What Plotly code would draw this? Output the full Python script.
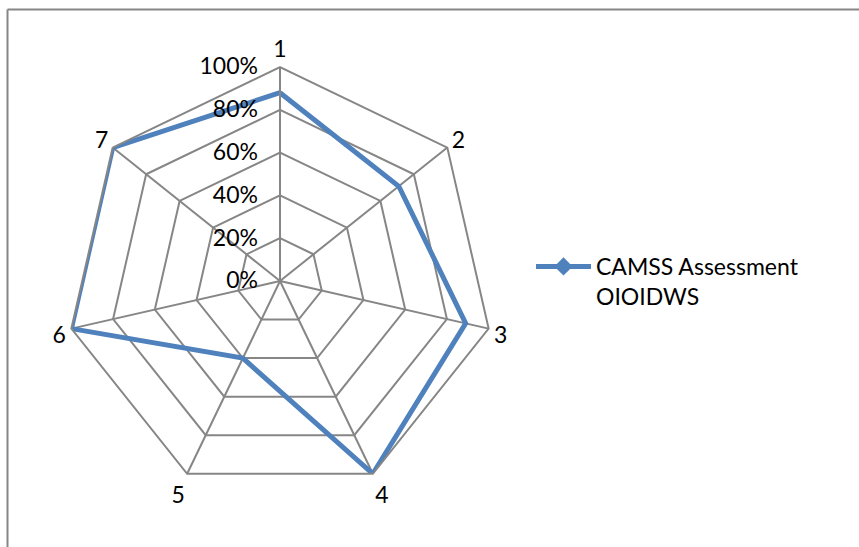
import plotly.graph_objects as go

categories = ["1", "2", "3", "4", "5", "6", "7"]
values = [0.88, 0.71, 0.89, 1.00, 0.40, 1.00, 1.00]
series_name = "CAMSS Assessment<br>OIOIDWS"
radial_ticks = [0, 0.2, 0.4, 0.6, 0.8, 1.0]
radial_labels = ["0%", "20%", "40%", "60%", "80%", "100%"]

W, H = 859, 547
cx, cy, R = 280, 281, 214
LINE = "#4F81BD"
GRID = "#868686"
FONT = "Lato"
FS = 23

fig = go.Figure()
fig.add_trace(go.Scatterpolar(
    r=values + values[:1], theta=categories + categories[:1],
    mode="lines", line=dict(color=LINE, width=5), showlegend=False,
))
fig.add_trace(go.Scatterpolar(
    r=[None], theta=[None], name=series_name,
    mode="lines+markers", line=dict(color=LINE, width=5),
    marker=dict(symbol="diamond", size=14, color=LINE), showlegend=True,
))

fig.update_layout(
    width=W, height=H,
    margin=dict(l=0, r=0, t=0, b=0),
    paper_bgcolor="white",
    font=dict(family=FONT, size=FS, color="black"),
    polar=dict(
        domain=dict(x=[(cx - R) / W, (cx + R) / W], y=[(H - cy - R) / H, (H - cy + R) / H]),
        gridshape="linear",
        bgcolor="white",
        angularaxis=dict(
            rotation=90, direction="clockwise", type="category",
            categoryarray=categories,
            showline=True, linecolor=GRID, linewidth=2,
            gridcolor=GRID, gridwidth=2, ticks="",
            tickfont=dict(family=FONT, size=FS, color="black"),
        ),
        radialaxis=dict(
            range=[0, 1], tickvals=radial_ticks, ticktext=radial_labels,
            angle=90, tickangle=90, side="counterclockwise",
            showline=True, linecolor=GRID, linewidth=2,
            gridcolor=GRID, gridwidth=2,
            ticks="outside", ticklen=13, tickcolor="rgba(0,0,0,0)",
            tickfont=dict(family=FONT, size=FS, color="black"),
        ),
    ),
    legend=dict(
        x=531 / W, y=(H - 245) / H, xanchor="left", yanchor="top",
        valign="top", itemwidth=55, bgcolor="rgba(0,0,0,0)",
        font=dict(family=FONT, size=FS, color="black"),
    ),
    shapes=[
        dict(type="line", xref="paper", yref="paper", x0=7.5 / W, x1=1, y0=(H - 9.5) / H, y1=(H - 9.5) / H,
             line=dict(color="#868686", width=2)),
        dict(type="line", xref="paper", yref="paper", x0=7.5 / W, x1=7.5 / W, y0=0, y1=(H - 9.5) / H,
             line=dict(color="#868686", width=2)),
    ],
)

fig.write_html("out.html")
